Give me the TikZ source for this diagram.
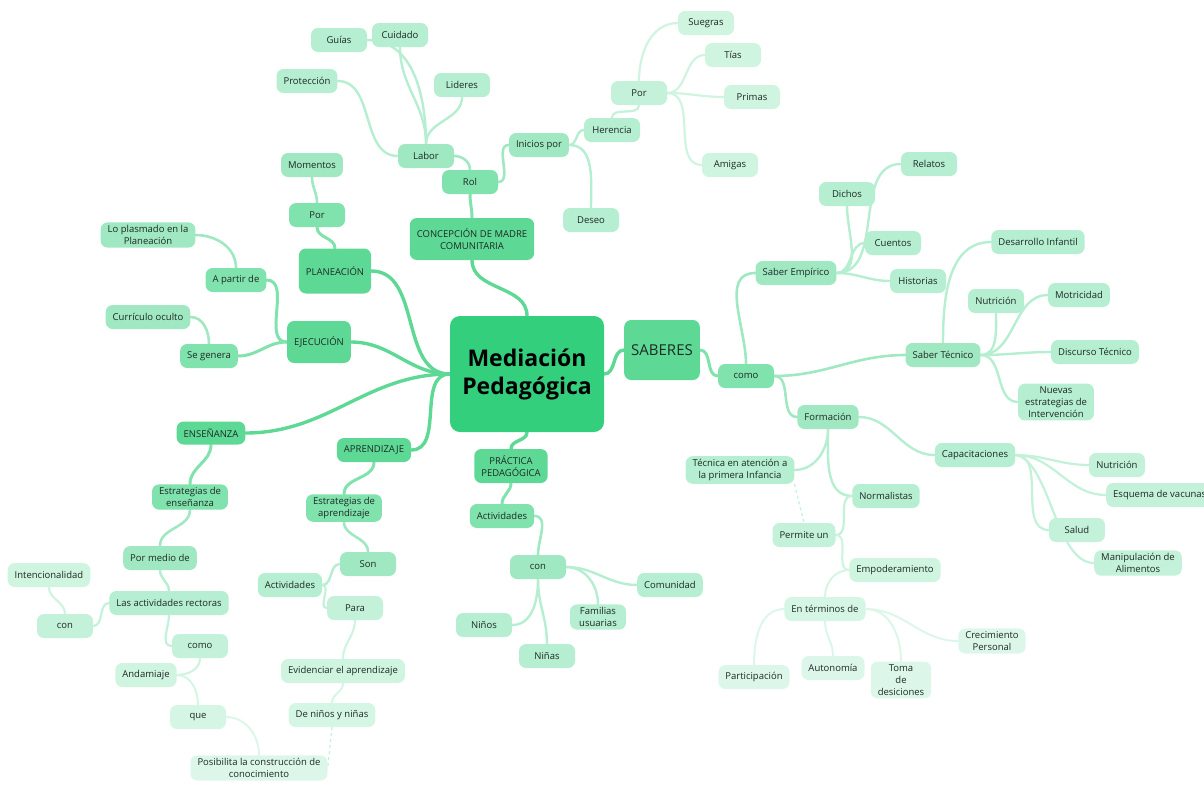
\documentclass[tikz,border=0pt]{standalone}
\usepackage{fontspec}
\setmainfont{Open Sans}
\usepackage{xcolor}
\usepackage{tikz}
\usetikzlibrary{backgrounds}
\definecolor{ink}{HTML}{1E2A24}
\definecolor{mmroot}{HTML}{33CF7D}
\definecolor{mma}{HTML}{5DD995}
\definecolor{mmb}{HTML}{80E2AD}
\definecolor{mmc}{HTML}{9FE8C1}
\definecolor{mmd}{HTML}{B5EED0}
\definecolor{mme}{HTML}{C3F1D9}
\definecolor{mmf}{HTML}{CFF4E0}
\definecolor{mmg}{HTML}{D6F6E5}
\definecolor{mmh}{HTML}{DCF7E9}
\tikzstyle{topic}=[rounded corners=7pt, minimum width=56pt, minimum height=24pt, inner xsep=7pt, inner ysep=3pt, align=center, text=ink, font=\fontsize{9.5}{12}\selectfont]
\tikzstyle{root}=[topic, fill=mmroot, rounded corners=10pt, minimum width=154pt, minimum height=116pt, text=black, font=\fontsize{23}{28}\selectfont\bfseries]
\tikzstyle{lva}=[topic, fill=mma]
\tikzstyle{lvb}=[topic, fill=mmb]
\tikzstyle{lvc}=[topic, fill=mmc]
\tikzstyle{lvd}=[topic, fill=mmd]
\tikzstyle{lve}=[topic, fill=mme]
\tikzstyle{lvf}=[topic, fill=mmf]
\tikzstyle{lvg}=[topic, fill=mmg]
\tikzstyle{lvh}=[topic, fill=mmh]
\tikzstyle{ea}=[line width=3.4pt, mma, line cap=round]
\tikzstyle{eb}=[line width=3pt, mmb, line cap=round]
\tikzstyle{ec}=[line width=2.6pt, mmc, line cap=round]
\tikzstyle{ed}=[line width=2.4pt, mmd, line cap=round]
\tikzstyle{ee}=[line width=2.2pt, mme, line cap=round]
\tikzstyle{ef}=[line width=2.2pt, mmf, line cap=round]
\tikzstyle{eg}=[line width=2pt, mmg, line cap=round]
\tikzstyle{eh}=[line width=2pt, mmh, line cap=round]
\tikzstyle{link}=[line width=1.2pt, mme, dashed]

\begin{document}
\begin{tikzpicture}[x=1pt, y=-1pt]
\useasboundingbox (0,0) rectangle (1204,785);
% centre and main branches
\node[root] (ctr) at (527,374) {Mediación\\Pedagógica};
\node[lva, minimum height=42pt] (conc) at (472,239) {CONCEPCIÓN DE MADRE\\COMUNITARIA};
\node[lva, minimum height=45pt, minimum width=69pt] (plan) at (335,271) {PLANEACIÓN};
\node[lva, minimum height=42pt] (ejec) at (319,342) {EJECUCIÓN};
\node[lva, minimum height=23pt] (ens) at (211,433) {ENSEÑANZA};
\node[lva] (apr) at (374,450) {APRENDIZAJE};
\node[lva, minimum height=34pt] (prac) at (511,466) {PRÁCTICA\\PEDAGÓGICA};
\node[lva, minimum height=60pt, minimum width=73pt, font=\fontsize{15}{18}\selectfont] (sab) at (662,350) {SABERES};
% concepcion
\node[lvb] (rol) at (470,182) {Rol};
\node[lvc] (lab) at (426,156) {Labor};
\node[lvc] (ini) at (539,145) {Inicios por};
\node[lvd] (guias) at (339,40) {Guías};
\node[lvd] (cuid) at (400,35) {Cuidado};
\node[lvd] (prot) at (307,81) {Protección};
\node[lvd] (lid) at (462,85) {Lideres};
\node[lvd] (her) at (612,130) {Herencia};
\node[lvd] (des) at (591,220) {Deseo};
\node[lve] (port) at (639,93) {Por};
\node[lvf] (sue) at (706,23) {Suegras};
\node[lvf] (tias) at (733,55) {Tías};
\node[lvf] (prim) at (752,97) {Primas};
\node[lvf] (ami) at (730,165) {Amigas};
% planeacion and ejecucion
\node[lvb] (porp) at (317,215) {Por};
\node[lvc] (mom) at (312,165) {Momentos};
\node[lvb] (apd) at (236,280) {A partir de};
\node[lvc] (plas) at (148,235) {Lo plasmado en la\\Planeación};
\node[lvb] (seg) at (209,356) {Se genera};
\node[lvc] (curr) at (148,317) {Currículo oculto};
% ensenanza
\node[lvb] (este) at (190,497) {Estrategias de\\enseñanza};
\node[lvc] (pmed) at (160,558) {Por medio de};
\node[lvd] (lar) at (169,603) {Las actividades rectoras};
\node[lve] (conl) at (65,626) {con};
\node[lvf] (int) at (49,575) {Intencionalidad};
\node[lve] (comol) at (200,646) {como};
\node[lvf] (anda) at (146,675) {Andamiaje};
\node[lvg] (que) at (198,717) {que};
\node[lvh] (pos) at (259,768) {Posibilita la construcción de\\conocimiento};
% aprendizaje
\node[lvb] (esta) at (344,508) {Estrategias de\\aprendizaje};
\node[lvc] (son) at (368,564) {Son};
\node[lvd] (actl) at (290,585) {Actividades};
\node[lve] (para) at (355,608) {Para};
\node[lvf] (evi) at (343,671) {Evidenciar el aprendizaje};
\node[lvg] (den) at (332,715) {De niños y niñas};
% practica
\node[lvb] (actp) at (502,516) {Actividades};
\node[lvc] (conp) at (538,567) {con};
\node[lvd] (ninos) at (484,625) {Niños};
\node[lvd] (ninas) at (547,656) {Niñas};
\node[lvd] (fam) at (598,617) {Familias\\usuarias};
\node[lvd] (com) at (670,585) {Comunidad};
% saberes
\node[lvb] (como) at (746,376) {como};
\node[lvc] (semp) at (796,273) {Saber Empírico};
\node[lvd] (dich) at (847,194) {Dichos};
\node[lvd] (rel) at (929,164) {Relatos};
\node[lvd] (cuen) at (893,243) {Cuentos};
\node[lvd] (hist) at (918,281) {Historias};
\node[lvc] (stec) at (943,355) {Saber Técnico};
\node[lvd] (desa) at (1038,242) {Desarrollo Infantil};
\node[lvd] (nuta) at (996,301) {Nutrición};
\node[lvd] (mot) at (1079,295) {Motricidad};
\node[lvd] (disc) at (1095,352) {Discurso Técnico};
\node[lvd] (nuev) at (1056,402) {Nuevas\\estrategias de\\Intervención};
\node[lvc] (form) at (828,417) {Formación};
\node[lvd] (cap) at (975,455) {Capacitaciones};
\node[lve] (nutb) at (1117,465) {Nutrición};
\node[lve, anchor=west] (esq) at (1106,495) {Esquema de vacunas};
\node[lve] (sal) at (1077,530) {Salud};
\node[lve] (man) at (1138,563) {Manipulación de\\Alimentos};
\node[lvd] (tec) at (740,470) {Técnica en atención a\\la primera Infancia};
\node[lvd] (norm) at (886,496) {Normalistas};
\node[lve] (perm) at (804,535) {Permite un};
\node[lvf] (emp) at (895,570) {Empoderamiento};
\node[lvg] (ent) at (825,609) {En términos de};
\node[lvh] (part) at (754,677) {Participación};
\node[lvh] (aut) at (833,668) {Autonomía};
\node[lvh] (toma) at (901,680) {Toma\\de\\desiciones};
\node[lvh] (crec) at (992,641) {Crecimiento\\Personal};

\begin{scope}[on background layer]
\draw[ea] (ctr.north) to[out=90, in=-90] (conc.south);
\draw[ea] (ctr.west) to[out=180, in=0] (plan.east);
\draw[ea] (ctr.west) to[out=180, in=0] (ejec.east);
\draw[ea] (ctr.west) to[out=180, in=0] (ens.east);
\draw[ea] (ctr.west) to[out=180, in=0] (apr.east);
\draw[ea] (ctr.south) to[out=-90, in=90] (prac.north);
\draw[ea] (ctr.east) to[out=0, in=180] (sab.west);
% concepcion
\draw[eb] (conc.north) to[out=90, in=-90] (rol.south);
\draw[ec] (rol.north) to[out=90, in=0] (lab.east);
\draw[ec] (rol.east) to[out=0, in=180] (ini.west);
\draw[ed] (lab.north) to[out=90, in=0] (guias.east);
\draw[ed] (lab.north) to[out=90, in=-90] (cuid.south);
\draw[ed] (lab.north) to[out=90, in=-90] (lid.south);
\draw[ed] (lab.west) to[out=180, in=0] (prot.east);
\draw[ed] (ini.east) to[out=0, in=180] (her.west);
\draw[ed] (ini.east) to[out=0, in=90] (des.north);
\draw[ee] (her.north) to[out=90, in=-90] (port.south);
\draw[ef] (port.north) to[out=90, in=180] (sue.west);
\draw[ef] (port.east) to[out=0, in=180] (tias.west);
\draw[ef] (port.east) to[out=0, in=180] (prim.west);
\draw[ef] (port.east) to[out=0, in=180] (ami.west);
% planeacion and ejecucion
\draw[eb] (plan.north) to[out=90, in=-90] (porp.south);
\draw[ec] (porp.north) to[out=90, in=-90] (mom.south);
\draw[eb] (ejec.west) to[out=180, in=0] (apd.east);
\draw[ec] (apd.north) to[out=90, in=0] (plas.east);
\draw[eb] (ejec.west) to[out=180, in=0] (seg.east);
\draw[ec] (seg.north) to[out=90, in=0] (curr.east);
% ensenanza
\draw[eb] (ens.south) to[out=-90, in=90] (este.north);
\draw[ec] (este.south) to[out=-90, in=90] (pmed.north);
\draw[ed] (pmed.south) to[out=-90, in=90] (lar.north);
\draw[ee] (lar.west) to[out=180, in=0] (conl.east);
\draw[ef] (conl.north) to[out=90, in=-90] (int.south);
\draw[ee] (lar.south) to[out=-90, in=180] (comol.west);
\draw[ef] (comol.south) to[out=-90, in=0] (anda.east);
\draw[eg] (anda.east) to[out=0, in=90] (que.north);
\draw[eh] (que.east) to[out=0, in=90] (pos.north);
% aprendizaje
\draw[eb] (apr.south) to[out=-90, in=90] (esta.north);
\draw[ec] (esta.south) to[out=-90, in=90] (son.north);
\draw[ed] (son.west) to[out=180, in=0] (actl.east);
\draw[ee] (actl.east) to[out=0, in=180] (para.west);
\draw[ef] (para.south) to[out=-90, in=90] (evi.north);
\draw[eg] (evi.south) to[out=-90, in=90] (den.north);
\draw[link] (den.south) -- (pos.east);
% practica
\draw[eb] (prac.south) to[out=-90, in=90] (actp.north);
\draw[ec] (actp.east) to[out=0, in=90] (conp.north);
\draw[ed] (conp.south) to[out=-90, in=0] (ninos.east);
\draw[ed] (conp.south) to[out=-90, in=90] (ninas.north);
\draw[ed] (conp.east) to[out=0, in=90] (fam.north);
\draw[ed] (conp.east) to[out=0, in=180] (com.west);
% saberes
\draw[eb] (sab.east) to[out=0, in=180] (como.west);
\draw[ec] (como.north) to[out=90, in=180] (semp.west);
\draw[ec] (como.east) to[out=0, in=180] (stec.west);
\draw[ec] (como.east) to[out=0, in=180] (form.west);
\draw[ed] (semp.east) to[out=0, in=-90] (dich.south);
\draw[ed] (semp.east) to[out=0, in=180] (rel.west);
\draw[ed] (semp.east) to[out=0, in=180] (cuen.west);
\draw[ed] (semp.east) to[out=0, in=180] (hist.west);
\draw[ed] (stec.north) to[out=90, in=180] (desa.west);
\draw[ed] (stec.east) to[out=0, in=-90] (nuta.south);
\draw[ed] (stec.east) to[out=0, in=180] (mot.west);
\draw[ed] (stec.east) to[out=0, in=180] (disc.west);
\draw[ed] (stec.east) to[out=0, in=180] (nuev.west);
\draw[ed] (form.east) to[out=0, in=180] (cap.west);
\draw[ed] (form.south) to[out=-90, in=0] (tec.east);
\draw[ed] (form.south) to[out=-90, in=180] (norm.west);
\draw[ee] (cap.east) to[out=0, in=180] (nutb.west);
\draw[ee] (cap.east) to[out=0, in=180] (esq.west);
\draw[ee] (cap.east) to[out=0, in=180] (sal.west);
\draw[ee] (cap.east) .. controls (1050,460) and (1055,563) .. (man.west);
\draw[ee] (norm.west) to[out=180, in=0] (perm.east);
\draw[ef] (perm.east) to[out=0, in=180] (emp.west);
\draw[eg] (emp.west) to[out=180, in=90] (ent.north);
\draw[eh] (ent.west) to[out=180, in=90] (part.north);
\draw[eh] (ent.south) to[out=-90, in=90] (aut.north);
\draw[eh] (ent.east) to[out=0, in=90] (toma.north);
\draw[eh] (ent.east) to[out=0, in=180] (crec.west);
\draw[link] (tec.south east) -- (perm.north);
\end{scope}
\end{tikzpicture}
\end{document}
